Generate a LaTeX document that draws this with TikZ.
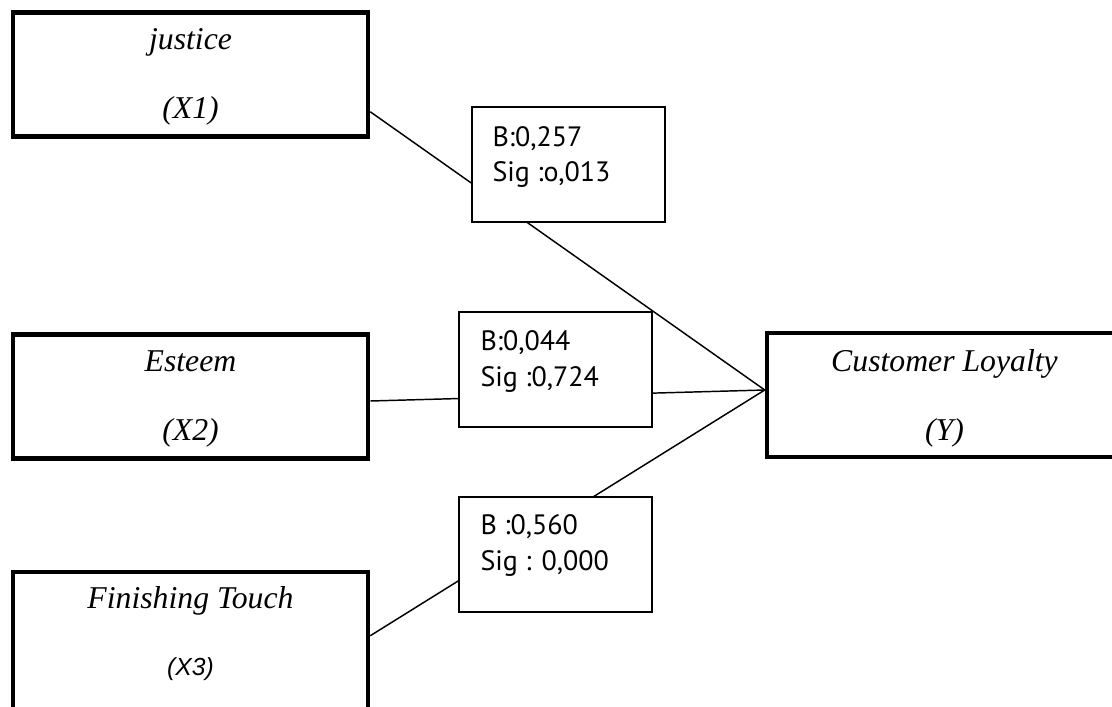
\documentclass[tikz,border=0pt]{standalone}
\usepackage{fontspec}
\setmainfont{Liberation Serif}
\setsansfont{PT Sans}
\newfontfamily\arialfont{Liberation Sans}
\usetikzlibrary{calc,positioning}

\begin{document}
\begin{tikzpicture}[x=0.75pt,y=-0.75pt]

\tikzset{varbox/.style={draw=black,line width=3.4pt,fill=white,inner sep=0pt,minimum width=266.25pt,minimum height=93pt,shape=rectangle},
coefbox/.style={draw=black,line width=1.1pt,fill=white,inner sep=0pt,minimum width=144.75pt,minimum height=86.25pt,shape=rectangle},
vartext/.style={font=\fontsize{23.8}{28}\selectfont\itshape,inner sep=0pt,anchor=base},
coeftext/.style={font=\fontsize{21}{26}\selectfont\sffamily,inner sep=0pt,anchor=base west},
link/.style={line width=1.1pt}}

\useasboundingbox (0,0) rectangle (1112,706);
\clip (0,0) rectangle (1112,706);

% Variable boxes
\node[varbox] (x1) at (190.5,74.5) {};
\node[varbox] (x2) at (190.5,396.5) {};
\node[varbox,minimum height=112.5pt] (x3) at (190.5,647) {};
\node[varbox] (y1) at (944.5,395) {};

% End points of the paths
\coordinate (x1o) at ($(x1.south east)+(0,-27)$);
\coordinate (x2o) at ($(x2.east)+(0,4.5)$);
\coordinate (x3o) at ($(x3.north east)+(0,66)$);
\coordinate (yin) at ($(y1.west)+(0,-5)$);

% Paths
\draw[link] (x1o) -- (yin); \draw[link] (x2o) -- (yin); \draw[link] (x3o) -- (yin);

% Coefficient boxes
\node[coefbox] (b1) at (568.5,164.5) {};
\node[coefbox] (b2) at (555.5,369.5) {};
\node[coefbox] (b3) at (555.5,554.5) {};

% Box texts
\node[vartext] (x1a) at ($(x1.north)+(0,39)$) {justice};
\node[vartext] (x1b) at ($(x1.north)+(0,108)$) {(X1)};
\node[vartext] (x2a) at ($(x2.north)+(0,39)$) {Esteem};
\node[vartext] (x2b) at ($(x2.north)+(0,108)$) {(X2)};
\node[vartext] (x3a) at ($(x3.north)+(0,39)$) {Finishing Touch};
\node[vartext,font=\fontsize{18.5}{22}\selectfont\arialfont\itshape] (x3b) at ($(x3.north)+(0,106)$) {(X3)};
\node[vartext] (y1a) at ($(y1.north)+(0,41)$) {Customer Loyalty};
\node[vartext] (y1b) at ($(y1.north)+(0,110)$) {(Y)};

% Coefficient texts
\node[coeftext] (b1a) at ($(b1.north west)+(21,40)$) {B:0,257};
\node[coeftext] (b1b) at ($(b1.north west)+(21,75)$) {Sig :o,013};
\node[coeftext] (b2a) at ($(b2.north west)+(22,39)$) {B:0,044};
\node[coeftext] (b2b) at ($(b2.north west)+(22,75)$) {Sig :0,724};
\node[coeftext] (b3a) at ($(b3.north west)+(22,38)$) {B :0,560};
\node[coeftext] (b3b) at ($(b3.north west)+(22,74)$) {Sig : 0,000};

\end{tikzpicture}
\end{document}
